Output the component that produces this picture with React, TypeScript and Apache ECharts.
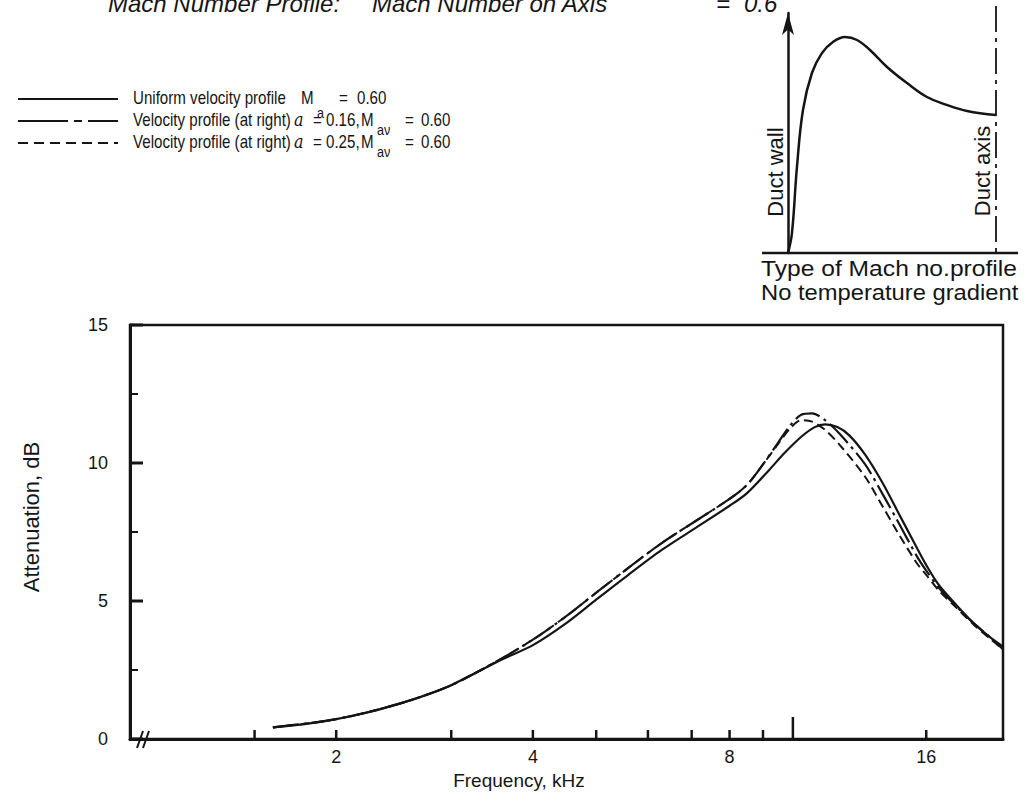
import React, { useEffect, useRef } from "react";
import * as echarts from "echarts";

// ---- Main chart data (frequency in kHz, attenuation in dB) ----
const freqUniform = [1.6, 1.8, 2.0, 2.25, 2.5, 2.75, 3.0, 3.3, 3.6, 4.0, 4.5, 5.0, 5.6, 6.3, 7.1, 8.0, 8.5, 9.2, 9.7, 10.3, 10.8, 11.2, 11.7, 12.2, 12.9, 13.7, 14.5, 15.5, 16.0, 16.7, 17.8, 18.9, 20.0, 20.97];
const attUniform = [0.42, 0.55, 0.72, 0.98, 1.28, 1.6, 1.95, 2.45, 2.9, 3.4, 4.2, 5.05, 5.95, 6.85, 7.65, 8.45, 8.9, 9.75, 10.35, 10.95, 11.3, 11.4, 11.3, 11.0, 10.3, 9.3, 8.2, 6.9, 6.3, 5.6, 4.85, 4.2, 3.7, 3.35];

const freqProfile16 = [1.6, 2.0, 2.5, 3.0, 3.5, 4.0, 4.5, 5.0, 5.6, 6.3, 7.1, 8.0, 8.5, 9.0, 9.5, 9.9, 10.3, 10.7, 11.2, 11.8, 12.9, 13.7, 14.5, 15.5, 16.0, 16.7, 17.8, 18.9, 20.0, 20.97];
const attProfile16 = [0.42, 0.72, 1.28, 1.95, 2.78, 3.6, 4.45, 5.3, 6.2, 7.1, 7.9, 8.7, 9.2, 9.95, 10.75, 11.35, 11.75, 11.8, 11.55, 11.05, 9.95, 8.9, 7.85, 6.6, 6.1, 5.5, 4.8, 4.2, 3.7, 3.25];

const freqProfile25 = [1.6, 2.0, 2.5, 3.0, 3.5, 4.0, 4.5, 5.0, 5.6, 6.3, 7.1, 8.0, 8.5, 9.0, 9.5, 9.9, 10.3, 10.7, 11.2, 11.8, 12.9, 13.7, 14.5, 15.5, 16.0, 16.7, 17.8, 18.9, 20.0, 20.97];
const attProfile25 = [0.42, 0.72, 1.28, 1.95, 2.78, 3.6, 4.45, 5.3, 6.2, 7.1, 7.9, 8.7, 9.2, 9.95, 10.7, 11.25, 11.55, 11.5, 11.2, 10.65, 9.5, 8.45, 7.45, 6.35, 5.95, 5.4, 4.75, 4.15, 3.65, 3.25];

// ---- Axis ticks / labels ----
const xLabelValues = [2, 4, 8, 16];
const xTickValues = [1.5, 2, 3, 4, 5, 6, 7, 8, 9, 16];
const xLongTickValues = [10];
const yMajorTickValues = [0, 5, 10, 15];
const yMinorTickValues = [2.5, 7.5, 12.5];
const xMin = 0.967;
const xMax = 20.97;

// ---- Inset: Mach number profile (duct wall -> duct axis), schematic ----
const insetRadius = [0, 0.019, 0.043, 0.072, 0.115, 0.163, 0.216, 0.274, 0.332, 0.394, 0.476, 0.572, 0.668, 0.764, 0.861, 1.0];
const insetMach = [0, 0.083, 0.358, 0.596, 0.75, 0.833, 0.879, 0.9, 0.8875, 0.846, 0.775, 0.708, 0.65, 0.617, 0.592, 0.575];

const pairs = (xs: number[], ys: number[]) => xs.map((x, i) => [x, ys[i]]);

const ink = "#151515";
const sans = "Liberation Sans";

// tick marks drawn inward through the axis scales
function xTickSeries(values: number[], len: number, width: number) {
  return {
    type: "custom",
    xAxisIndex: 0,
    yAxisIndex: 0,
    silent: true,
    clip: false,
    data: values.map((v) => [v, 0]),
    renderItem: (_p: any, api: any) => {
      const pt = api.coord([api.value(0), 0]);
      return {
        type: "line",
        shape: { x1: pt[0], y1: pt[1], x2: pt[0], y2: pt[1] - len },
        style: { stroke: ink, lineWidth: width },
      };
    },
  };
}
function yTickSeries(values: number[], len: number, width: number) {
  return {
    type: "custom",
    xAxisIndex: 0,
    yAxisIndex: 0,
    silent: true,
    clip: false,
    data: values.map((v) => [xMin, v]),
    renderItem: (_p: any, api: any) => {
      const pt = api.coord([xMin, api.value(1)]);
      return {
        type: "line",
        shape: { x1: pt[0], y1: pt[1], x2: pt[0] + len, y2: pt[1] },
        style: { stroke: ink, lineWidth: width },
      };
    },
  };
}

function buildOption() {
  const legendY = [98, 120, 142];
  const SX = 0.84;
  const legendFont = `18px "${sans}"`;
  const txt = (x: number, y: number, text: string, font: string = legendFont) => ({
    type: "text",
    x,
    y,
    scaleX: SX,
    style: { text, font, fill: ink, verticalAlign: "middle" },
  });
  const legendLine = (y: number, dash: number[] | null) => ({
    type: "line",
    shape: { x1: 18, y1: y + 1, x2: 118, y2: y + 1 },
    style: { stroke: ink, lineWidth: 2.2, lineDash: dash || undefined },
  });
  const titleFont = `italic 24px "${sans}"`;
  const alphaFont = `italic 19px "DejaVu Serif"`;
  const subFont = `15px "${sans}"`;

  const graphic: any[] = [
    // title (cut at top of page, as in the source)
    { type: "text", x: 108, y: 3, style: { text: "Mach Number Profile:", font: titleFont, fill: ink, verticalAlign: "middle" } },
    { type: "text", x: 372, y: 3, style: { text: "Mach Number on Axis", font: titleFont, fill: ink, verticalAlign: "middle" } },
    { type: "text", x: 716, y: 3, style: { text: "=", font: titleFont, fill: ink, verticalAlign: "middle" } },
    { type: "text", x: 744, y: 3, style: { text: "0.6", font: titleFont, fill: ink, verticalAlign: "middle" } },

    // legend row 1
    legendLine(legendY[0], null),
    txt(133, legendY[0], "Uniform velocity profile"),
    txt(301, legendY[0], "M"),
    txt(317, legendY[0] + 15, "a", subFont),
    txt(339, legendY[0], "="),
    txt(357, legendY[0], "0.60"),
    // legend row 2
    legendLine(legendY[1], [50, 6, 8, 6]),
    txt(133, legendY[1], "Velocity profile (at right)"),
    txt(294, legendY[1], "a", alphaFont),
    txt(313, legendY[1], "="),
    txt(326, legendY[1], "0.16,"),
    txt(361, legendY[1], "M"),
    txt(377, legendY[1] + 10, "aν", subFont),
    txt(405, legendY[1], "="),
    txt(421, legendY[1], "0.60"),
    // legend row 3
    legendLine(legendY[2], [10, 6]),
    txt(133, legendY[2], "Velocity profile (at right)"),
    txt(294, legendY[2], "a", alphaFont),
    txt(313, legendY[2], "="),
    txt(326, legendY[2], "0.25,"),
    txt(361, legendY[2], "M"),
    txt(377, legendY[2] + 10, "aν", subFont),
    txt(405, legendY[2], "="),
    txt(421, legendY[2], "0.60"),

    // inset frame pieces
    { type: "line", shape: { x1: 762, y1: 253, x2: 1018, y2: 253 }, style: { stroke: ink, lineWidth: 2.5 } },
    { type: "line", shape: { x1: 996, y1: 6, x2: 996, y2: 253 }, style: { stroke: ink, lineWidth: 1.8, lineDash: [26, 6, 4, 6] } },
    { type: "text", x: 775, y: 172, rotation: Math.PI / 2, style: { text: "Duct wall", font: `22px "${sans}"`, fill: ink, align: "center", verticalAlign: "middle" } },
    { type: "text", x: 982, y: 171, rotation: Math.PI / 2, style: { text: "Duct axis", font: `22px "${sans}"`, fill: ink, align: "center", verticalAlign: "middle" } },
    { type: "text", x: 761, y: 268, scaleX: 1.12, style: { text: "Type of Mach no.profile", font: `22px "${sans}"`, fill: ink, verticalAlign: "middle" } },
    { type: "text", x: 761, y: 292, scaleX: 1.08, style: { text: "No temperature gradient", font: `22px "${sans}"`, fill: ink, verticalAlign: "middle" } },

    // axis break mark
    { type: "line", shape: { x1: 137, y1: 748, x2: 143, y2: 731 }, style: { stroke: ink, lineWidth: 2 } },
    { type: "line", shape: { x1: 143, y1: 748, x2: 149, y2: 731 }, style: { stroke: ink, lineWidth: 2 } },
  ];

  return {
    animation: false,
    backgroundColor: "#ffffff",
    grid: [
      { left: 130, right: 23, top: 325, bottom: 61, show: true, borderColor: ink, borderWidth: 2.5, backgroundColor: "transparent" },
      { left: 788, top: 13, width: 208, height: 240 },
    ],
    xAxis: [
      {
        type: "log",
        logBase: 2,
        gridIndex: 0,
        min: xMin,
        max: xMax,
        axisLine: { show: true, onZero: false, lineStyle: { color: ink, width: 3 } },
        axisTick: { show: false },
        minorTick: { show: false },
        axisLabel: { show: true, customValues: xLabelValues, formatter: (v: number) => String(v), margin: 9, fontSize: 18, color: ink, fontFamily: sans },
        splitLine: { show: false },
        name: "Frequency, kHz",
        nameLocation: "middle",
        nameGap: 23,
        nameTextStyle: { fontSize: 19, color: ink, fontFamily: sans, padding: [0, 95, 0, 0] },
      },
      { type: "value", gridIndex: 1, min: 0, max: 1, show: false },
    ],
    yAxis: [
      {
        type: "value",
        gridIndex: 0,
        min: 0,
        max: 15,
        interval: 5,
        axisLine: { show: true, lineStyle: { color: ink, width: 3 } },
        axisTick: { show: false },
        minorTick: { show: false },
        axisLabel: { margin: 22, fontSize: 18, color: ink, fontFamily: sans },
        splitLine: { show: false },
        name: "Attenuation, dB",
        nameLocation: "middle",
        nameGap: 88,
        nameTextStyle: { fontSize: 22, color: ink, fontFamily: sans, padding: [0, 0, 0, 30] },
      },
      {
        type: "value",
        gridIndex: 1,
        min: 0,
        max: 1,
        axisLine: { show: true, symbol: ["none", "arrow"], symbolSize: [9, 22], lineStyle: { color: ink, width: 2.5 } },
        axisTick: { show: false },
        axisLabel: { show: false },
        splitLine: { show: false },
      },
    ],
    series: [
      {
        name: "Uniform velocity profile",
        type: "line",
        xAxisIndex: 0,
        yAxisIndex: 0,
        data: pairs(freqUniform, attUniform),
        showSymbol: false,
        symbol: "none",
        smooth: 0.3,
        lineStyle: { color: ink, width: 2.2, type: "solid" },
      },
      {
        name: "Velocity profile a = 0.16",
        type: "line",
        xAxisIndex: 0,
        yAxisIndex: 0,
        data: pairs(freqProfile16, attProfile16),
        showSymbol: false,
        symbol: "none",
        smooth: 0.3,
        lineStyle: { color: ink, width: 2.2, type: [26, 5, 3, 5] },
      },
      {
        name: "Velocity profile a = 0.25",
        type: "line",
        xAxisIndex: 0,
        yAxisIndex: 0,
        data: pairs(freqProfile25, attProfile25),
        showSymbol: false,
        symbol: "none",
        smooth: 0.3,
        lineStyle: { color: ink, width: 2, type: [9, 5] },
      },
      {
        name: "Mach profile",
        type: "line",
        xAxisIndex: 1,
        yAxisIndex: 1,
        data: pairs(insetRadius, insetMach),
        showSymbol: false,
        symbol: "none",
        smooth: 0.4,
        lineStyle: { color: ink, width: 2.5 },
      },
      xTickSeries(xTickValues, 9, 2.5),
      xTickSeries(xLongTickValues, 22, 2.5),
      yTickSeries(yMajorTickValues, 13, 3),
      yTickSeries(yMinorTickValues, 8, 2),
    ],
    graphic,
  };
}

export default function App() {
  const ref = useRef<HTMLDivElement>(null);
  useEffect(() => {
    if (!ref.current) return;
    const chart = echarts.init(ref.current, null, { renderer: "svg" });
    chart.setOption(buildOption() as any);
    return () => chart.dispose();
  }, []);
  return (
    <div
      ref={ref}
      style={{ position: "absolute", left: 0, top: 0, width: 1026, height: 800, background: "#fff" }}
    />
  );
}
